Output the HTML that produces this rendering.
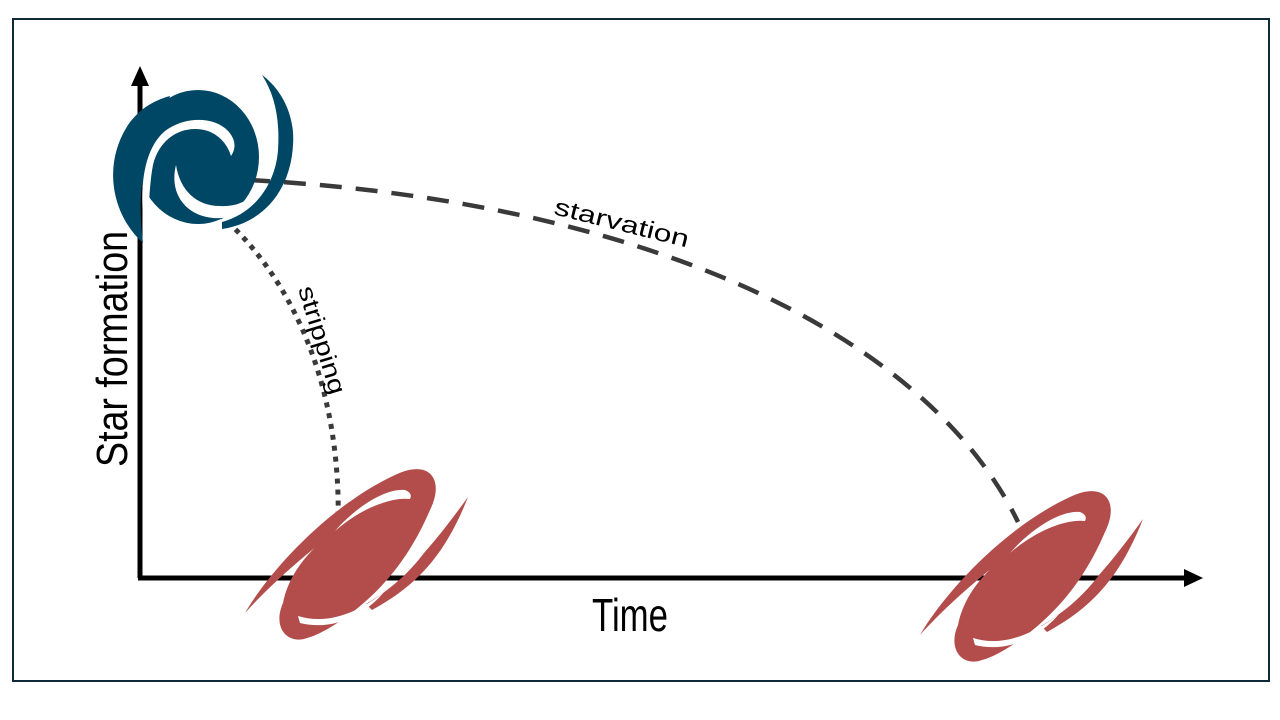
<!DOCTYPE html>
<html><head><meta charset="utf-8"><style>
html,body{margin:0;padding:0;background:#fff;}
svg{display:block;}
text{font-family:"Liberation Sans",sans-serif;}
</style></head><body>
<svg width="1280" height="720" viewBox="0 0 1280 720">
<rect x="0" y="0" width="1280" height="720" fill="#fff"/>
<rect x="13" y="19" width="1256" height="662" fill="none" stroke="#0f2a36" stroke-width="2"/>

<!-- axes -->
<line x1="140" y1="578" x2="140" y2="84" stroke="#000" stroke-width="5"/>
<polygon points="140,66 131,86 149,86" fill="#000"/>
<line x1="138" y1="578" x2="1186" y2="578" stroke="#000" stroke-width="5"/>
<polygon points="1203,578 1184,569 1184,587" fill="#000"/>

<!-- curves -->
<path d="M140,177 C600,178 920,320 1018,522" fill="none" stroke="#3a3a3a" stroke-width="4.5" stroke-dasharray="22,14"/>
<path d="M175,182 C290,250 342,385 338,525" fill="none" stroke="#3a3a3a" stroke-width="5" stroke-dasharray="5,6"/>

<!-- labels -->
<text x="622" y="231" font-size="24" text-anchor="middle" textLength="138" lengthAdjust="spacingAndGlyphs" transform="rotate(14 622 222)">starvation</text>
<text x="322" y="348" font-size="24" text-anchor="middle" textLength="112" lengthAdjust="spacingAndGlyphs" transform="rotate(73 322 340)">stripping</text>
<text x="0" y="0" font-size="44" text-anchor="middle" textLength="236" lengthAdjust="spacingAndGlyphs" transform="translate(127,349) rotate(-90)">Star formation</text>
<text x="630" y="631" font-size="46" text-anchor="middle" textLength="76" lengthAdjust="spacingAndGlyphs">Time</text>

<!-- blue spiral -->
<g fill="#004766">
<ellipse cx="198" cy="157" rx="61" ry="67"/>
<path d="M143,243 C112,215 102,165 128,125 C140,108 155,100 170,96 L160,125 C140,160 138,205 143,243 Z"/>
<path d="M262,75 C285,92 295,120 293,145 C291,185 268,222 222,229 L222,222 C258,212 276,180 278,150 C280,120 275,95 262,75 Z"/>
</g>
<!-- white gaps -->
<path d="M146,240 C139,200 140,152 165,131 C185,116 215,116 229,132 C237,142 235,150 231,156 C228,146 221,136 208,131 C185,124 160,136 153,165 C149,185 149,215 146,240 Z" fill="#fff"/>
<path d="M176,165 C168,197 190,220 222,218 C240,216 252,206 258,190 C248,202 235,207 220,206 C196,206 180,190 176,165 Z" fill="#fff"/>

<!-- red galaxies -->
<defs>
<g id="rg" fill="#b34d4b">
<path d="M245,613 C270,570 330,505 395,475 C430,458 445,480 430,510 C415,545 395,575 367,600 C345,620 320,635 307,638 C288,645 272,628 283,603 C287,580 305,550 337,531 C310,550 270,585 245,613 Z"/>
<path d="M468,497 C455,530 440,555 420,575 C405,590 390,600 372,610 L366,604 C390,590 410,572 424,553 C440,535 455,515 468,497 Z"/>
<path d="M335,531 C355,508 385,488 405,490 Q413,493 410,499 C395,497 365,505 335,531 Z" fill="#fff"/>
<path d="M298,616 C320,623 350,619 384,592 C364,616 332,631 300,623 Z" fill="#fff"/>
</g>
</defs>
<use href="#rg"/>
<use href="#rg" transform="translate(675,22)"/>
</svg>
</body></html>
